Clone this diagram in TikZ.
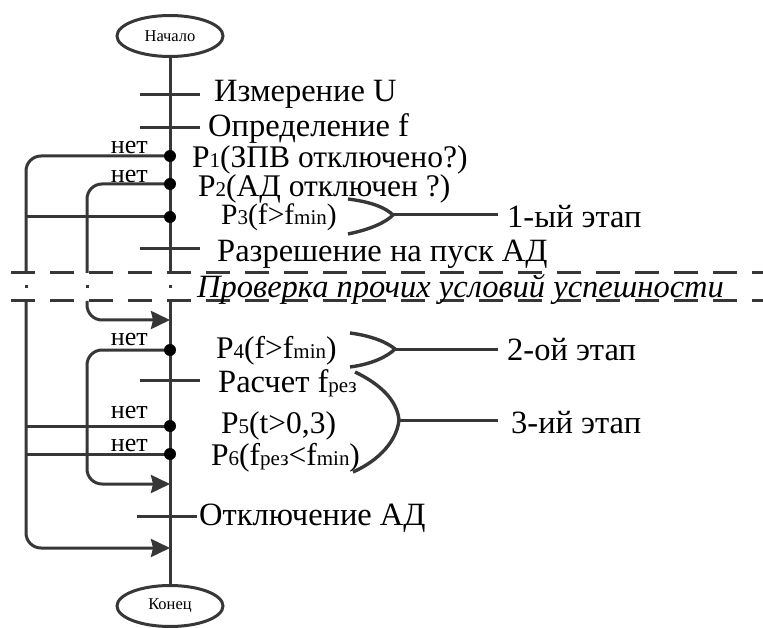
\documentclass[tikz,border=0pt]{standalone}
\usepackage{fontspec}
\setmainfont{Liberation Serif}
\newfontfamily\tnr{Liberation Serif}
\usetikzlibrary{arrows.meta,positioning,shapes.geometric}
\definecolor{linegray}{RGB}{55,55,55}
\newcommand{\ix}[1]{{\fontsize{21}{21}\selectfont #1}}

\begin{document}
\begin{tikzpicture}[
    x=1pt, y=-1pt,
    line/.style={draw=linegray, line width=3pt},
    term/.style={ellipse, line, minimum width=106pt, minimum height=41pt, inner sep=0pt, font=\tnr\fontsize{16.5}{16.5}\selectfont},
    dot/.style={circle, fill=black, inner sep=0pt, minimum size=12pt},
    lbl/.style={anchor=base west, inner sep=0pt, text height=0.66em, text depth=0.05em, font=\tnr\fontsize{32.5}{32.5}\selectfont},
    chklbl/.style={lbl, font=\tnr\fontsize{31.5}{31.5}\selectfont},
    nolbl/.style={anchor=base east, inner sep=0pt, font=\tnr\fontsize{26}{26}\selectfont},
    sep/.style={line, dash pattern=on 24pt off 15pt},
    loop/.style={line, rounded corners=15pt},
    arrow/.style={loop, -{Stealth[length=19pt, width=18pt, inset=2pt]}},
    brace/.style={line, line width=3.4pt}
]
    \useasboundingbox (0,0) rectangle (763,628);

    % Terminals
    \node[term] (start) at (170,36) {Начало};
    \node[term] (end) at (170,606) {Конец};

    % Main flow, broken at the separator
    \coordinate (brkA) at (170,273);
    \coordinate (brkB) at (170,301);
    \draw[line] (start) -- (brkA);
    \draw[line] (brkB) -- (end);
    \foreach \x in {26,87,170}
        \draw[line] (\x,285.5) -- (\x,288.5);

    % Separator
    \coordinate (sepAL) at (11,273);
    \coordinate (sepAR) at (763,273);
    \coordinate (sepBL) at (11,301);
    \coordinate (sepBR) at (763,301);
    \draw[sep] (sepAL) -- (sepAR);
    \draw[sep] (sepBL) -- (sepBR);

    % Operations
    \foreach \y in {95,128,249,380}
        \draw[line] (140,\y) -- (200,\y);
    \draw[line] (137,516) -- (197,516);

    % Checks
    \coordinate (p1) at (170,156);
    \coordinate (p2) at (170,184);
    \coordinate (p3) at (170,217);
    \coordinate (p4) at (170,350);
    \coordinate (p5) at (170,426);
    \coordinate (p6) at (170,454);

    % Bypass lines
    \coordinate (outA) at (26,273);
    \coordinate (outB) at (26,301);
    \coordinate (midA) at (87,273);
    \coordinate (midB) at (87,301);
    \coordinate (in1) at (170,548);
    \coordinate (in2) at (170,320);
    \coordinate (in4) at (170,484);
    \draw[loop] (p1) -| (outA);
    \draw[arrow] (outB) |- (in1);
    \draw[loop] (p2) -| (midA);
    \draw[arrow] (midB) |- (in2);
    \draw[line] (p3) -- (p3 -| outA);
    \draw[line] (p5) -- (p5 -| outB);
    \draw[line] (p6) -- (p6 -| outB);
    \draw[arrow] (p4) -- (p4 -| midB) -- (in4 -| midB) -- (in4);

    \foreach \p in {p1,p2,p3,p4,p5,p6}
        \node[dot] (\p dot) at (\p) {};

    % "no" labels
    \node[nolbl] (no1) at (148,154) {нет};
    \node[nolbl] (no2) at (148,183) {нет};
    \node[nolbl] (no4) at (148,345) {нет};
    \node[nolbl] (no5) at (148,418) {нет};
    \node[nolbl] (no6) at (148,451) {нет};

    % Texts
    \node[lbl] (measU) at (214,102) {Измерение U};
    \node[lbl] (findf) at (208,137) {Определение f};
    \node[chklbl] (chk1) at (192,167.5) {P\ix{1}(ЗПВ отключено?)};
    \node[chklbl] (chk2) at (198,197) {P\ix{2}(АД отключен ?)};
    \node[chklbl, font=\tnr\fontsize{29.5}{29.5}\selectfont] (chk3) at (221,225) {P\ix{3}(f>f\ix{min})};
    \node[lbl] (allow) at (217,262) {Разрешение на пуск АД};
    \node[lbl, font=\tnr\fontsize{32.5}{32.5}\selectfont\itshape] (other) at (197,298) {Проверка прочих условий успешности};
    \node[chklbl] (chk4) at (216,358) {P\ix{4}(f>f\ix{min})};
    \node[lbl] (calc) at (218,392) {Расчет f\ix{рез}};
    \node[chklbl] (chk5) at (221,433) {P\ix{5}(t>0,3)};
    \node[chklbl] (chk6) at (211,465) {P\ix{6}(f\ix{рез}<f\ix{min})};
    \node[lbl] (trip) at (199,525) {Отключение АД};

    % Stages
    \coordinate (tip1) at (393,215);
    \coordinate (tip2) at (395,349);
    \coordinate (tip3) at (399,420);
    \coordinate (s1end) at (498,215);
    \coordinate (s2end) at (498,349);
    \coordinate (s3end) at (498,420);
    \draw[brace] (348,199) .. controls (372,202) and (386,208) .. (tip1)
        .. controls (386,222) and (372,229) .. (348,234);
    \draw[brace] (350,333) .. controls (373,336) and (388,343) .. (tip2)
        .. controls (388,356) and (373,364) .. (350,367);
    \draw[brace] (355,372) .. controls (380,384) and (397,400) .. (tip3)
        .. controls (397,440) and (380,460) .. (353,472);
    \draw[line] (tip1) -- (s1end);
    \draw[line] (tip2) -- (s2end);
    \draw[line] (tip3) -- (s3end);
    \node[lbl] (stage1) at (507,228) {1-ый этап};
    \node[lbl] (stage2) at (507,360) {2-ой этап};
    \node[lbl] (stage3) at (511,433) {3-ий этап};
\end{tikzpicture}
\end{document}
